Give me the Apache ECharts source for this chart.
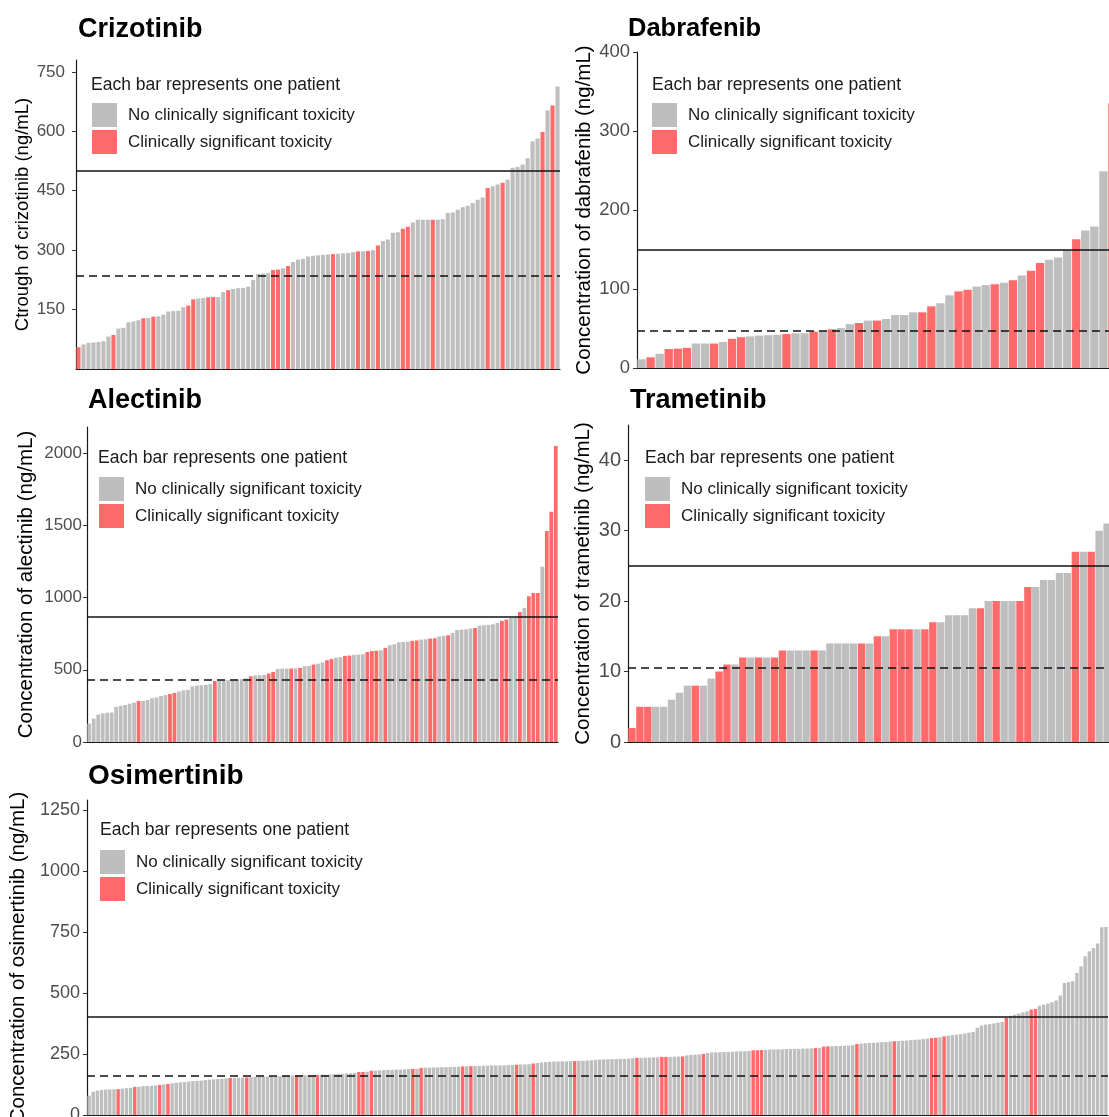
<!DOCTYPE html>
<html>
<head>
<meta charset="utf-8">
<title>Drug concentrations per patient</title>
<script src="https://cdn.jsdelivr.net/npm/echarts@6/dist/echarts.min.js"></script>
<style>
  html, body { margin:0; padding:0; background:#fff; }
  #main { width:1109px; height:1117px; }
</style>
</head>
<body>
<div id="main"></div>
<script>
// one value per patient, sorted ascending
var crizotinib = [55,62,66,67,68,70,82,86,102,104,
  118,120,123,128,129,132,133,137,145,146,
  147,156,160,176,178,179,181,182,182,194,
  199,202,204,205,208,225,240,241,242,250,
  251,254,260,270,276,278,284,286,287,288,
  289,290,291,292,293,295,297,297,298,300,
  312,323,327,344,345,354,359,370,377,377,
  377,377,377,378,394,395,402,408,412,419,
  427,433,457,461,466,470,478,508,510,516,
  532,575,582,598,653,665,713];
// indices of patients with clinically significant toxicity
var crizotinibTox = [0,7,13,15,22,23,26,27,30,39,40,42,51,56,58,60,65,66,71,82,85,93,95];
var crizotinibTicks = [150,300,450,600,750];
var crizotinibLines = [500, 235]; // solid, dashed

var dabrafenib = [11,13.5,18,24,24.5,25.5,31,31,31,33,
  37,39,40,41,41.5,42,43,44,44,46,
  46.5,49,50.5,55.5,57,60,60,62,67,67,
  70.5,70.5,78,82,92,97,99,103,105,106,
  108,111,117,123,133,137,140,149,163,174,
  179,249,335];
var dabrafenibTox = [1,3,4,5,8,10,11,16,19,21,24,26,31,32,35,36,39,41,43,44,48,52];
var dabrafenibTicks = [0,100,200,300,400];
var dabrafenibLines = [150, 47];

var alectinib = [127,162,190,198,202,204,243,250,256,265,
  272,284,284,290,303,308,318,325,332,339,
  350,358,362,385,390,393,395,400,422,425,
  427,428,430,432,435,440,455,460,462,465,
  474,485,505,507,508,508,510,513,524,527,
  536,542,550,566,575,583,587,596,598,603,
  605,608,623,630,632,635,651,670,676,690,
  692,694,700,703,709,711,716,718,730,735,
  739,755,775,778,780,785,789,805,808,810,
  815,824,838,848,858,862,900,928,1009,1032,
  1032,1212,1461,1593,2048];
var alectinibTox = [11,18,19,28,36,40,41,45,47,50,53,54,57,58,62,63,64,66,72,73,76,77,80,86,92,93,96,98,99,100,102,103,104];
var alectinibTicks = [0,500,1000,1500,2000];
var alectinibLines = [870, 432];

var trametinib = [2,5,5,5,5,6,7,8,8,8,
  9,10,11,11,12,12,12,12,12,13,
  13,13,13,13,13,14,14,14,14,14,
  14,15,15,16,16,16,16,16,17,17,
  18,18,18,19,19,20,20,20,20,20,
  22,22,23,23,24,24,27,27,27,30,
  31];
var trametinibTox = [0,1,2,8,11,12,14,16,18,19,23,29,31,33,34,35,37,38,44,46,49,50,56,58];
var trametinibTicks = [0,10,20,30,40];
var trametinibLines = [25, 10.6];

var osimertinib = [79,95,100,103,104,105,105,106,108,110,
  111,115,116,118,119,120,121,123,125,127,
  130,132,134,135,137,139,140,141,143,145,
  146,147,148,150,152,152,153,153,154,155,
  156,156,157,158,158,159,159,160,160,161,
  162,162,163,163,164,164,165,165,166,167,
  168,169,170,171,172,176,176,177,181,182,
  183,184,185,185,186,186,187,188,189,189,
  193,194,194,195,195,196,196,197,197,198,
  199,199,200,201,201,202,202,203,203,203,
  204,204,205,206,207,207,208,211,213,215,
  217,218,219,219,220,220,220,221,222,222,
  223,224,226,227,228,228,229,229,230,230,
  231,232,234,234,235,235,236,236,238,238,
  238,239,239,240,244,246,247,248,250,254,
  256,257,257,258,258,259,260,261,261,262,
  265,265,266,267,268,268,269,269,270,270,
  271,271,272,272,273,274,275,280,281,282,
  283,283,284,284,286,291,293,294,295,296,
  297,298,299,301,302,303,304,305,307,308,
  309,311,313,315,316,318,322,325,327,329,
  331,334,337,340,357,366,370,372,375,378,
  381,398,406,411,415,420,425,432,434,448,
  452,456,462,469,489,541,545,548,582,609,
  650,671,684,702,769,770];
var osimertinibTox = [7,11,17,19,34,38,50,55,65,66,68,78,80,90,92,103,107,117,132,138,139,143,148,160,161,162,175,177,178,185,194,203,204,206,221,227,228];
var osimertinibTicks = [0,250,500,750,1000,1250];
var osimertinibLines = [402, 162];

var FONT = '"Liberation Sans", Arial, Helvetica, sans-serif';
var GREY = '#bebebe', RED = '#ff6b6b';
var NO_TOX = 'No clinically significant toxicity';
var TOX = 'Clinically significant toxicity';

// layout of each panel (pixels); right-hand panels run past the page edge like the cropped figure
var panels = [
  {title:'Crizotinib', vals:crizotinib, tox:crizotinibTox, ticks:crizotinibTicks, lines:crizotinibLines, max:780,
   yname:'Ctrough of crizotinib (ng/mL)', nameSize:18.5, nameGap:40, tickSize:17, tickMargin:11, titleSize:27,
   grid:{left:76, top:60, width:484, height:309}, gap:'18%',
   titlePos:[78,16], notePos:[91,76], legendPos:[92,103]},
  {title:'Dabrafenib', vals:dabrafenib, tox:dabrafenibTox, ticks:dabrafenibTicks, lines:dabrafenibLines, max:400,
   yname:'Concentration of dabrafenib (ng/mL)', nameSize:20.5, nameGap:42, tickSize:18.5, tickMargin:7, titleSize:25.5,
   grid:{left:637, top:52, width:480, height:316}, gap:'8%',
   titlePos:[628,16], notePos:[652,76], legendPos:[652,103]},
  {title:'Alectinib', vals:alectinib, tox:alectinibTox, ticks:alectinibTicks, lines:alectinibLines, max:2180,
   yname:'Concentration of alectinib (ng/mL)', nameSize:20.5, nameGap:50, tickSize:17, tickMargin:5, titleSize:27,
   grid:{left:87, top:427, width:471, height:315}, gap:'16%',
   titlePos:[88,387], notePos:[98,449], legendPos:[99,477]},
  {title:'Trametinib', vals:trametinib, tox:trametinibTox, ticks:trametinibTicks, lines:trametinibLines, max:45,
   yname:'Concentration of trametinib (ng/mL)', nameSize:20.5, nameGap:34, tickSize:20, tickMargin:7, titleSize:27,
   grid:{left:628, top:425, width:483, height:317}, gap:'7%',
   titlePos:[630,387], notePos:[645,449], legendPos:[645,477]},
  {title:'Osimertinib', vals:osimertinib, tox:osimertinibTox, ticks:osimertinibTicks, lines:osimertinibLines, max:1290,
   yname:'Concentration of osimertinib (ng/mL)', nameSize:20.5, nameGap:50, tickSize:18, tickMargin:7, titleSize:28,
   grid:{left:87, top:800, width:1021, height:315}, gap:'18%',
   titlePos:[88,762], notePos:[100,821], legendPos:[100,850]}
];

var option = {animation:false, title:[], legend:[], grid:[], xAxis:[], yAxis:[], series:[]};

panels.forEach(function(p, k){
  option.grid.push({left:p.grid.left, top:p.grid.top, width:p.grid.width, height:p.grid.height,
    containLabel:false, outerBoundsMode:'none'});
  option.xAxis.push({
    type:'category', gridIndex:k,
    data:p.vals.map(function(v,i){ return 'P'+(i+1); }),
    axisLine:{lineStyle:{color:'#1a1a1a', width:1.2}},
    axisTick:{show:false}, axisLabel:{show:false}
  });
  option.yAxis.push({
    type:'value', gridIndex:k, min:0, max:p.max,
    name:p.yname, nameLocation:'middle', nameRotate:90, nameGap:p.nameGap,
    nameTextStyle:{fontFamily:FONT, fontSize:p.nameSize, color:'#000'},
    axisLine:{show:true, lineStyle:{color:'#1a1a1a', width:1.2}},
    axisTick:{show:true, length:4, customValues:p.ticks, lineStyle:{color:'#333'}},
    axisLabel:{customValues:p.ticks, fontFamily:FONT, fontSize:p.tickSize, color:'#4d4d4d', margin:p.tickMargin,
      formatter:function(v){ return String(v); }},
    splitLine:{show:false}
  });
  var grey = p.vals.map(function(v,i){ return p.tox.indexOf(i) >= 0 ? '-' : v; });
  var red = p.vals.map(function(v,i){ return p.tox.indexOf(i) >= 0 ? v : '-'; });
  option.series.push({
    type:'bar', name:NO_TOX, xAxisIndex:k, yAxisIndex:k, data:grey,
    itemStyle:{color:GREY}, barGap:'-100%', barCategoryGap:p.gap,
    markLine:{
      silent:true, symbol:['none','none'], label:{show:false},
      data:[
        {yAxis:p.lines[0], lineStyle:{color:'#111', width:1.6, type:'solid'}},
        {yAxis:p.lines[1], lineStyle:{color:'#111', width:1.6, type:[8,5]}}
      ]
    }
  });
  option.series.push({
    type:'bar', name:TOX, xAxisIndex:k, yAxisIndex:k, data:red,
    itemStyle:{color:RED}, barGap:'-100%', barCategoryGap:p.gap
  });
  option.title.push({
    text:p.title, left:p.titlePos[0], top:p.titlePos[1], padding:0,
    textStyle:{fontFamily:FONT, fontSize:p.titleSize, fontWeight:'bold', color:'#000'}
  });
  option.title.push({
    text:'Each bar represents one patient', left:p.notePos[0], top:p.notePos[1], padding:0,
    textStyle:{fontFamily:FONT, fontSize:17.5, fontWeight:'normal', color:'#1a1a1a'}
  });
  option.legend.push({
    data:[NO_TOX, TOX], orient:'vertical', left:p.legendPos[0], top:p.legendPos[1],
    padding:0, itemWidth:25, itemHeight:24, itemGap:3, icon:'rect',
    textStyle:{fontFamily:FONT, fontSize:17, color:'#1a1a1a', padding:[0,0,0,6]}
  });
});

var myChart = echarts.init(document.getElementById('main'));
myChart.setOption(option);
</script>
</body>
</html>
